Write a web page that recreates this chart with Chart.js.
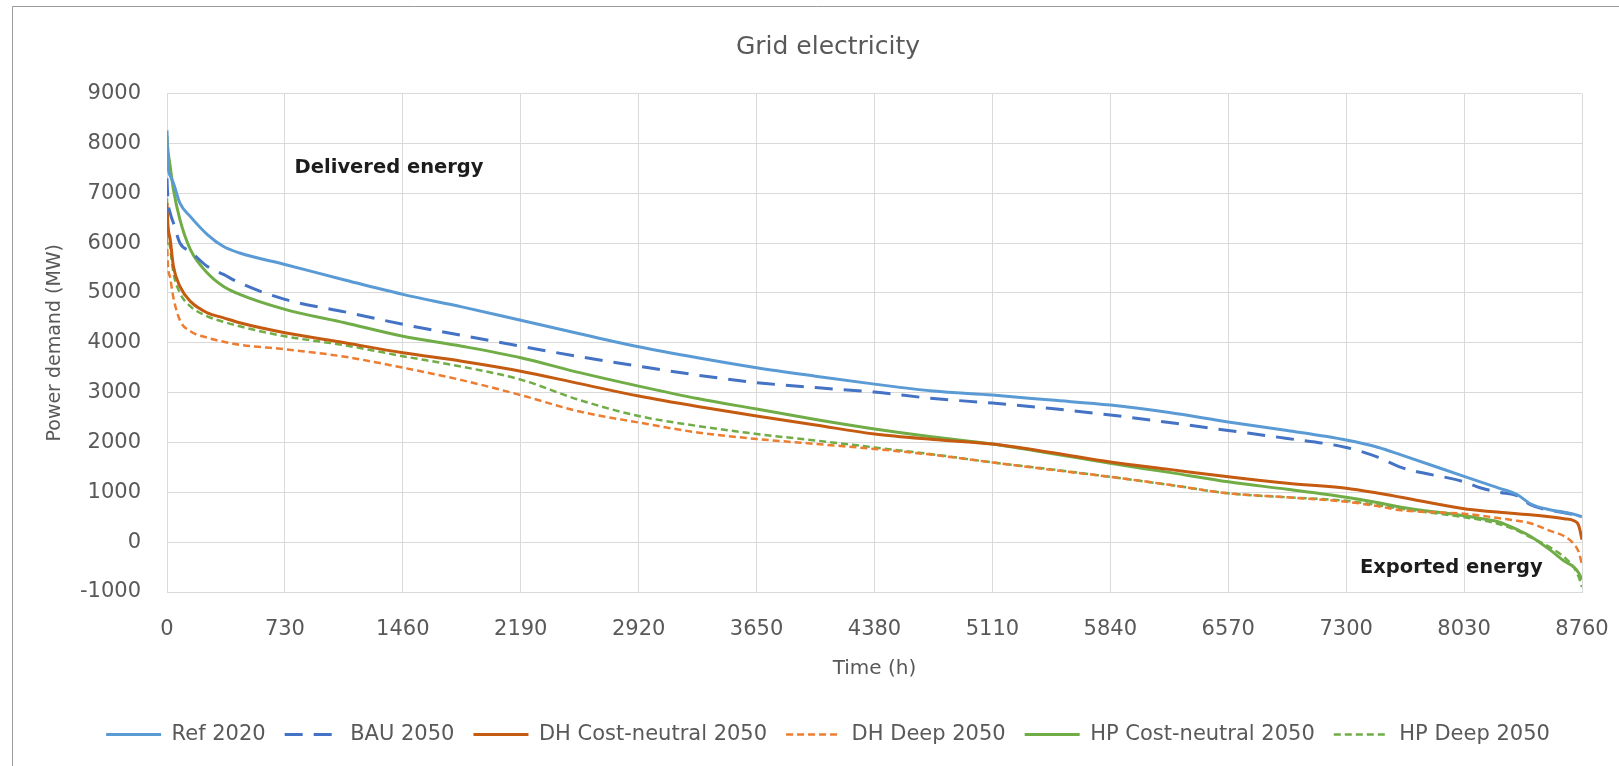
<!DOCTYPE html>
<html>
<head>
<meta charset="utf-8">
<title>Grid electricity</title>
<script src="https://cdn.jsdelivr.net/npm/chart.js@4.4.1/dist/chart.umd.min.js"></script>
<style>
  html, body { margin: 0; padding: 0; background: #ffffff; }
  #wrap { width: 1619px; height: 766px; position: relative; }
</style>
</head>
<body>
<div id="wrap"><canvas id="chart" width="1619" height="766"></canvas></div>
<script>
// Duration curves of grid electricity (hours sorted by demand, MW)
const hours = [0, 5, 20, 40, 80, 145, 250, 350, 450, 730, 1100, 1460, 1825, 2190, 2555, 2920,
  3285, 3650, 4015, 4380, 4745, 5110, 5475, 5840, 6205, 6570, 6935, 7300, 7500, 7640,
  8030, 8140, 8250, 8360, 8440, 8560, 8650, 8710, 8740, 8760];

const ref2020 = [8260, 7600, 7350, 7200, 6800, 6530, 6170, 5930, 5800, 5570, 5260, 4970, 4720, 4450, 4180, 3920,
  3700, 3500, 3330, 3170, 3030, 2950, 2850, 2750, 2600, 2410, 2240, 2050, 1900, 1750,
  1320, 1200, 1080, 950, 770, 650, 600, 560, 530, 510];

const bau2050 = [7300, 6900, 6600, 6400, 6000, 5830, 5530, 5370, 5200, 4870, 4620, 4370, 4150, 3930, 3720, 3530,
  3350, 3200, 3100, 3010, 2880, 2790, 2680, 2550, 2400, 2240, 2080, 1900, 1700, 1500,
  1210, 1080, 1000, 930, 750, 640, 590, 550, 520, 500];

const dhCostNeutral2050 = [6800, 6400, 6070, 5530, 5130, 4830, 4600, 4500, 4400, 4200, 4000, 3800, 3630, 3430, 3180, 2930,
  2720, 2530, 2350, 2170, 2060, 1970, 1800, 1610, 1460, 1310, 1180, 1080, 980, 900,
  670, 630, 600, 570, 550, 510, 470, 430, 330, 50];

const dhDeep2050 = [6100, 5600, 5300, 4900, 4450, 4230, 4100, 4020, 3960, 3870, 3720, 3500, 3250, 2950, 2620, 2400,
  2200, 2070, 1970, 1870, 1750, 1600, 1450, 1310, 1150, 980, 900, 810, 720, 640,
  570, 530, 480, 430, 380, 230, 120, -40, -200, -450];

const hpCostNeutral2050 = [8150, 7900, 7530, 7070, 6470, 5870, 5400, 5130, 4970, 4670, 4400, 4130, 3930, 3700, 3400, 3130,
  2880, 2670, 2460, 2270, 2110, 1970, 1780, 1580, 1400, 1210, 1060, 900, 790, 700,
  530, 470, 400, 250, 120, -150, -380, -500, -620, -750];

const hpDeep2050 = [6900, 6300, 5900, 5400, 5000, 4730, 4530, 4420, 4330, 4130, 3950, 3730, 3520, 3260, 2850, 2530,
  2330, 2170, 2040, 1900, 1760, 1600, 1460, 1310, 1150, 980, 900, 830, 740, 670,
  500, 440, 360, 230, 100, -100, -300, -510, -700, -900];

const seriesNames = ['Ref 2020', 'BAU 2050', 'DH Cost-neutral 2050', 'DH Deep 2050', 'HP Cost-neutral 2050', 'HP Deep 2050'];

const FONT = '"DejaVu Sans", sans-serif';
const TEXT_GREY = '#595959';
const GRID_GREY = '#d9d9d9';

function points(values) {
  return hours.map((h, i) => ({ x: h, y: values[i] }));
}

function lineSet(label, values, color, width, dash) {
  return {
    label: label,
    data: points(values),
    borderColor: color,
    backgroundColor: color,
    borderWidth: width,
    borderDash: dash,
    pointRadius: 0,
    pointHoverRadius: 0,
    fill: false,
    cubicInterpolationMode: 'monotone'
  };
}

// White page with the grey frame of the chart object
const framePlugin = {
  id: 'frame',
  beforeDraw(chart) {
    const ctx = chart.ctx;
    ctx.save();
    ctx.fillStyle = '#ffffff';
    ctx.fillRect(0, 0, chart.width, chart.height);
    ctx.strokeStyle = '#9a9a9a';
    ctx.lineWidth = 1;
    ctx.beginPath();
    ctx.moveTo(12.5, chart.height + 5);
    ctx.lineTo(12.5, 6.5);
    ctx.lineTo(chart.width + 5, 6.5);
    ctx.stroke();
    ctx.restore();
  }
};

// Text boxes naming the two regions of the curve
const regionLabels = [
  { text: 'Delivered energy', hour: 790, mw: 7500 },
  { text: 'Exported energy', hour: 7385, mw: -520 }
];

const regionLabelPlugin = {
  id: 'regionLabels',
  afterDatasetsDraw(chart) {
    const ctx = chart.ctx;
    const xs = chart.scales.x, ys = chart.scales.y;
    ctx.save();
    ctx.font = 'bold 19.5px ' + FONT;
    ctx.fillStyle = '#1c1c1c';
    ctx.textAlign = 'left';
    ctx.textBaseline = 'middle';
    regionLabels.forEach(l => {
      ctx.fillText(l.text, xs.getPixelForValue(l.hour), ys.getPixelForValue(l.mw));
    });
    ctx.restore();
  }
};

// Legend entries drawn as short line samples with each series' own dash and width
function legendLines(chart) {
  const items = Chart.defaults.plugins.legend.labels.generateLabels(chart);
  items.forEach(item => {
    const ds = chart.data.datasets[item.datasetIndex];
    item.pointStyle = 'line';
    item.lineDash = ds.borderDash;
    item.lineWidth = ds.borderWidth;
    item.strokeStyle = ds.borderColor;
    item.fillStyle = ds.borderColor;
  });
  return items;
}

const plainNumber = value => String(value);

new Chart(document.getElementById('chart'), {
  type: 'line',
  data: {
    datasets: [
      lineSet(seriesNames[0], ref2020, '#5b9bd5', 3, []),
      lineSet(seriesNames[1], bau2050, '#4472c4', 3, [18, 11]),
      lineSet(seriesNames[2], dhCostNeutral2050, '#c55a11', 3, []),
      lineSet(seriesNames[3], dhDeep2050, '#ed7d31', 2.5, [7, 4]),
      lineSet(seriesNames[4], hpCostNeutral2050, '#70ad47', 3, []),
      lineSet(seriesNames[5], hpDeep2050, '#70ad47', 2.5, [7, 4])
    ]
  },
  options: {
    responsive: false,
    animation: false,
    devicePixelRatio: 1,
    layout: { padding: { left: 74, right: 37, top: 0, bottom: 11 } },
    plugins: {
      title: {
        display: true,
        text: 'Grid electricity',
        color: TEXT_GREY,
        font: { family: FONT, size: 25, weight: 'normal' },
        padding: { top: 32, bottom: 31.5 }
      },
      legend: {
        position: 'bottom',
        labels: {
          color: TEXT_GREY,
          font: { family: FONT, size: 21 },
          usePointStyle: true,
          pointStyle: 'line',
          pointStyleWidth: 55,
          padding: 19,
          generateLabels: legendLines
        }
      },
      tooltip: { enabled: false }
    },
    scales: {
      x: {
        type: 'linear',
        min: 0,
        max: 8760,
        afterFit(scale) { scale.height = 113; },
        ticks: {
          stepSize: 730,
          autoSkip: false,
          maxRotation: 0,
          color: TEXT_GREY,
          font: { family: FONT, size: 21 },
          padding: 0,
          callback: plainNumber
        },
        grid: { color: GRID_GREY, lineWidth: 1, drawTicks: true, tickLength: 25, tickColor: 'rgba(0,0,0,0)' },
        border: { color: GRID_GREY },
        title: {
          display: true,
          text: 'Time (h)',
          color: TEXT_GREY,
          font: { family: FONT, size: 20 },
          padding: { top: 0, bottom: 23.75 }
        }
      },
      y: {
        type: 'linear',
        min: -1000,
        max: 9000,
        afterFit(scale) { scale.width = 93; },
        ticks: {
          stepSize: 1000,
          color: TEXT_GREY,
          font: { family: FONT, size: 21 },
          padding: 26,
          callback: plainNumber
        },
        grid: { color: GRID_GREY, lineWidth: 1, drawTicks: false },
        border: { color: GRID_GREY },
        title: {
          display: true,
          text: 'Power demand (MW)',
          color: TEXT_GREY,
          font: { family: FONT, size: 19 },
          padding: { top: -30, bottom: 0 }
        }
      }
    }
  },
  plugins: [framePlugin, regionLabelPlugin]
});
</script>
</body>
</html>
